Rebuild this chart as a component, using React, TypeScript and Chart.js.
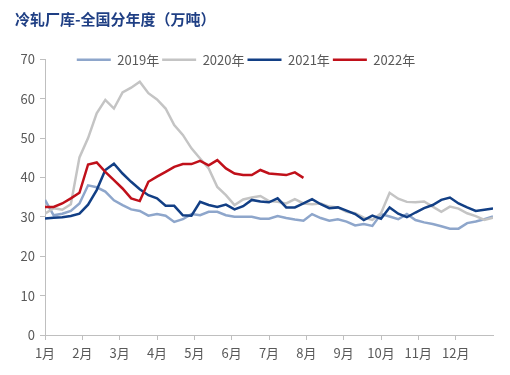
import { useEffect, useRef } from 'react';
import { Chart, registerables } from 'chart.js';

Chart.register(...registerables);

const TITLE = '冷轧厂库-全国分年度（万吨）';
const MONTHS = ['1月', '2月', '3月', '4月', '5月', '6月', '7月', '8月', '9月', '10月', '11月', '12月'];
const SERIES_NAMES = ['2019年', '2020年', '2021年', '2022年'];
const WEEKS_PER_YEAR = 52;

const Y2019 = [34.3, 30.4, 30.8, 31.5, 33.4, 38.0, 37.5, 36.4, 34.2, 33.0, 31.9, 31.5, 30.3, 30.7, 30.3, 28.7, 29.4, 30.7, 30.4, 31.3, 31.3, 30.4, 30.0, 30.0, 30.0, 29.5, 29.5, 30.2, 29.7, 29.3, 29.0, 30.7, 29.7, 29.0, 29.4, 28.8, 27.8, 28.2, 27.7, 30.7, 30.1, 29.4, 30.7, 29.2, 28.6, 28.2, 27.6, 27.0, 27.0, 28.4, 28.8, 29.4, 30.1];
const Y2020 = [30.8, 32.2, 31.8, 33.2, 45.1, 50.0, 56.3, 59.7, 57.5, 61.6, 62.8, 64.3, 61.4, 59.8, 57.5, 53.3, 50.8, 47.4, 44.8, 42.3, 37.6, 35.5, 33.0, 34.4, 34.9, 35.3, 34.0, 33.8, 33.4, 34.5, 33.4, 33.2, 33.4, 32.6, 32.4, 31.3, 30.9, 29.8, 29.2, 30.9, 36.1, 34.6, 33.8, 33.7, 33.9, 32.6, 31.3, 32.6, 32.1, 30.9, 30.2, 29.2, 29.8];
const Y2021 = [29.6, 29.8, 29.9, 30.2, 30.8, 33.1, 36.8, 41.9, 43.5, 41.0, 38.9, 37.0, 35.5, 34.7, 32.8, 32.8, 30.4, 30.3, 33.8, 33.0, 32.5, 33.1, 31.9, 32.7, 34.3, 33.9, 33.7, 34.7, 32.4, 32.4, 33.4, 34.5, 33.2, 32.2, 32.4, 31.6, 30.7, 29.2, 30.3, 29.5, 32.4, 30.8, 29.9, 31.1, 32.2, 33.0, 34.3, 34.9, 33.4, 32.4, 31.5, 31.8, 32.1];
const Y2022 = [32.5, 32.5, 33.4, 34.7, 36.1, 43.3, 43.8, 41.4, 39.3, 37.2, 34.7, 34.0, 38.9, 40.2, 41.4, 42.7, 43.4, 43.4, 44.2, 43.1, 44.4, 42.3, 41.0, 40.6, 40.6, 41.9, 41.0, 40.8, 40.6, 41.3, 39.9];

const SERIES_VALUES = [Y2019, Y2020, Y2021, Y2022];
const SERIES_COLORS = ['#8EA6CB', '#C4C4C4', '#123F85', '#C0101A'];
const SERIES_ORDER = [4, 3, 2, 1];

const FONT_FAMILY = '"Noto Sans CJK SC", "Noto Sans", sans-serif';
const TEXT_COLOR = '#595959';
const AXIS_COLOR = '#BFBFBF';

const toPoints = (vals: number[]) => vals.map((y, i) => ({ x: (i * 12) / WEEKS_PER_YEAR, y }));

const legendShift = {
  id: 'legendShift',
  afterLayout(chart: any) {
    const l = chart.legend;
    if (!l) return;
    const dx = -8;
    const dy = 17;
    l.left += dx;
    l.right += dx;
    l.top += dy;
    l.bottom += dy;
  },
};

export default function App() {
  const ref = useRef<HTMLCanvasElement | null>(null);

  useEffect(() => {
    if (!ref.current) return;
    const chart = new Chart(ref.current, {
      type: 'line',
      data: {
        datasets: SERIES_NAMES.map((name, k) => ({
          label: name,
          data: toPoints(SERIES_VALUES[k]),
          borderColor: SERIES_COLORS[k],
          backgroundColor: SERIES_COLORS[k],
          borderWidth: 2.5,
          pointRadius: 0,
          pointHoverRadius: 0,
          tension: 0,
          fill: false,
          order: SERIES_ORDER[k],
        })),
      },
      options: {
        animation: false,
        responsive: false,
        devicePixelRatio: 1,
        layout: { padding: { left: 15, right: 17, top: 0, bottom: 0 } },
        plugins: {
          title: {
            display: true,
            text: TITLE,
            align: 'start',
            color: '#1F3F84',
            font: { family: FONT_FAMILY, size: 15, weight: 'bold' },
            padding: { top: 10, bottom: 5.3 },
          },
          legend: {
            display: true,
            position: 'top',
            labels: {
              usePointStyle: true,
              pointStyle: 'line',
              pointStyleWidth: 34,
              padding: 3,
              color: TEXT_COLOR,
              font: { family: FONT_FAMILY, size: 13 },
              sort: (a: any, b: any) => a.datasetIndex - b.datasetIndex,
            },
          },
          tooltip: { enabled: false },
        },
        scales: {
          x: {
            type: 'linear',
            min: 0,
            max: 12,
            border: { color: AXIS_COLOR, width: 1 },
            grid: { display: true, drawOnChartArea: false, drawTicks: true, tickLength: 5, color: AXIS_COLOR },
            ticks: {
              autoSkip: false,
              maxRotation: 0,
              padding: 5,
              color: TEXT_COLOR,
              font: { family: FONT_FAMILY, size: 13 },
              callback: (v: any) => MONTHS[v] ?? '',
            },
            afterBuildTicks: (s: any) => {
              s.ticks = MONTHS.map((_, i) => ({ value: i }));
            },
            afterFit: (s: any) => {
              s.height = 40;
            },
          },
          y: {
            type: 'linear',
            min: 0,
            max: 70,
            border: { color: AXIS_COLOR, width: 1 },
            grid: { display: true, drawOnChartArea: false, drawTicks: true, tickLength: 5, color: AXIS_COLOR },
            ticks: {
              stepSize: 10,
              padding: 5,
              color: TEXT_COLOR,
              font: { family: FONT_FAMILY, size: 13 },
            },
            afterFit: (s: any) => {
              s.width = 30;
            },
          },
        },
      },
      plugins: [legendShift],
    } as any);
    return () => chart.destroy();
  }, []);

  return (
    <div style={{ position: 'fixed', left: 0, top: 0, width: 510, height: 375, background: '#fff' }}>
      <canvas ref={ref} width={510} height={375} />
    </div>
  );
}
